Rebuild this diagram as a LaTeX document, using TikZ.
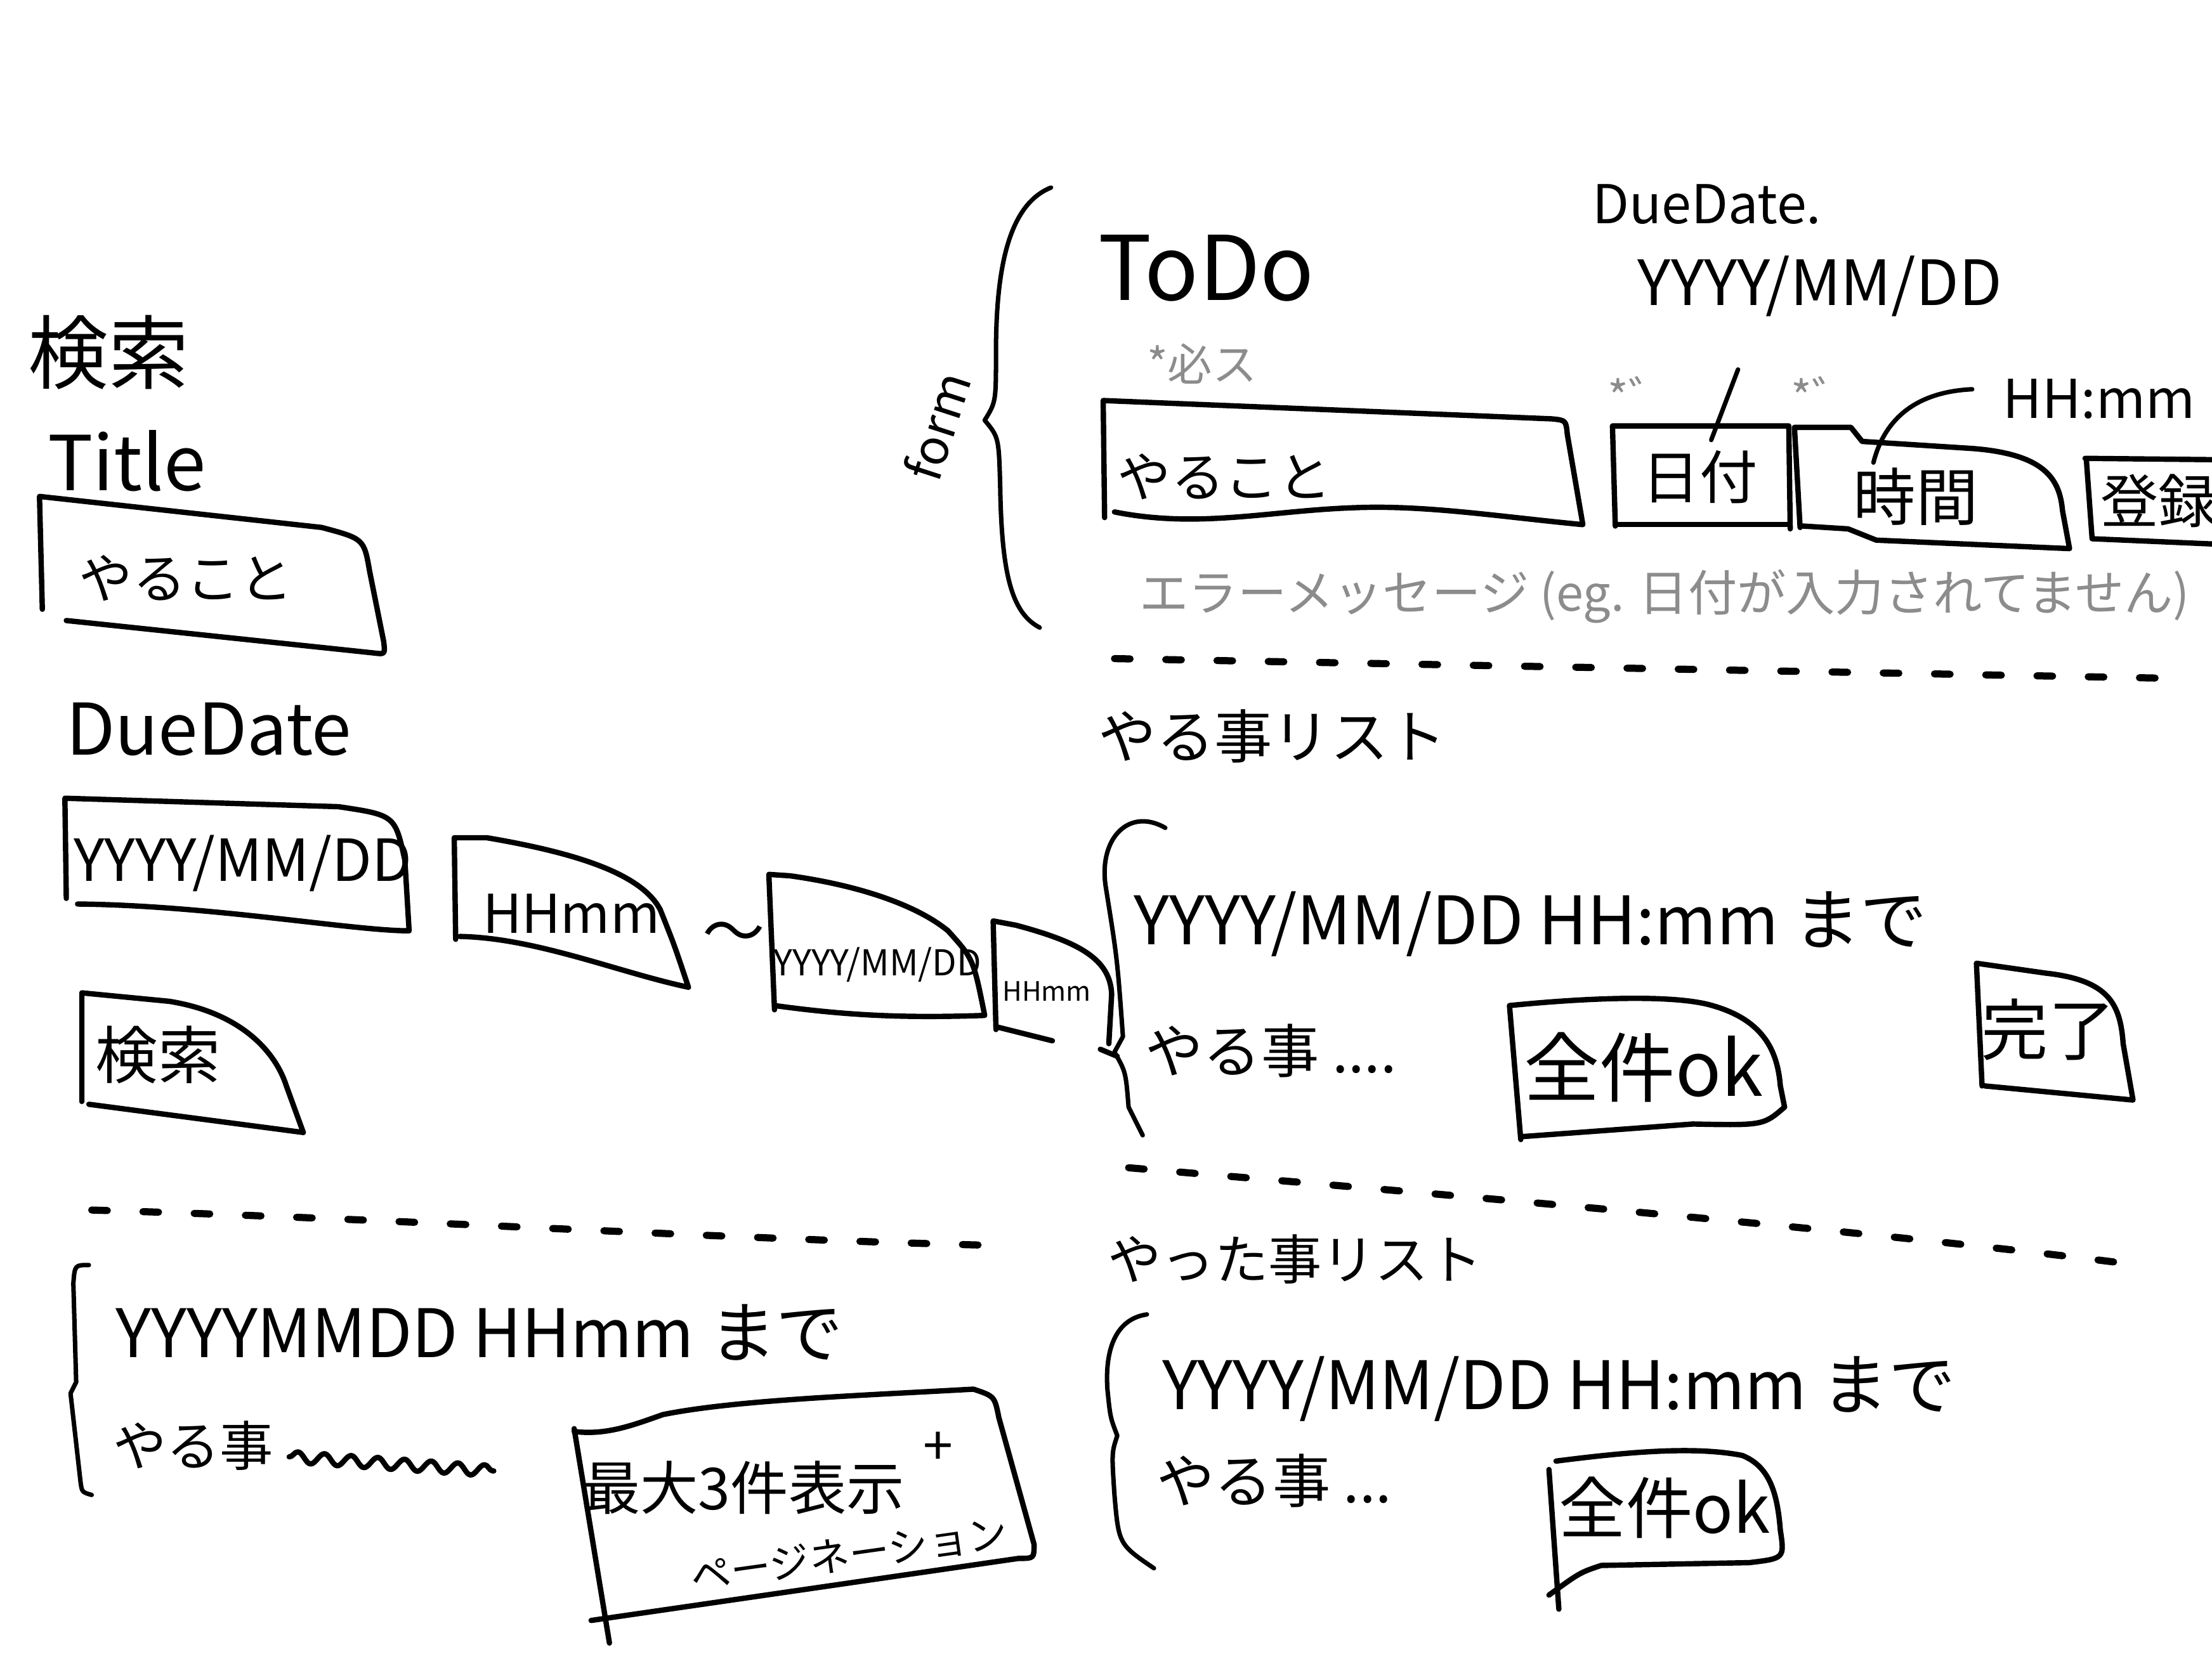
\documentclass[tikz,border=0pt]{standalone}
\usepackage{fontspec}
\setmainfont{Noto Sans CJK JP}
\usetikzlibrary{decorations.pathmorphing}

\begin{document}
\begin{tikzpicture}[
        x=0.02224cm, y=-0.02224cm,
        line width=2.4pt, line cap=round, line join=round,
        every node/.style={inner sep=0pt, color=black},
        fs/.style={font=\fontsize{#1}{#1}\selectfont},
        pale/.style={color=black!45},
        sep line/.style={line width=3.2pt, dash pattern=on 7pt off 16pt},
        brace/.style={line width=2pt},
        squiggle/.style={decorate, decoration={snake, amplitude=2.5pt, segment length=12pt}},
    ]

    \useasboundingbox (0,0) rectangle (1568,1176);
    \fill[white] (0,0) rectangle (1568,1176);
    \clip (0,0) rectangle (1568,1176);

    % search panel
    \node[fs=36] (kensaku) at (77,250) {検索};
    \node[fs=34] (title) at (90,327) {Title};
    \node[fs=24] (yarukotoL) at (132,410) {やること};
    \draw (30,432) -- (28,352) -- (228,374) .. controls (258,382) .. (262,405)
        -- (272,455) .. controls (273,464) .. (265,463) -- (47,440);

    \node[fs=32] (duedateL) at (148,517) {DueDate};
    \node[fs=26] (ymdL) at (172,612) {YYYY/MM/DD};
    \draw (47,637) -- (46,566) -- (240,572) .. controls (280,578) .. (287,610)
        -- (290,660) .. controls (250,660) and (150,642) .. (55,641);

    \node[fs=24] (hhmmL) at (405,648) {HHmm};
    \draw (323,666) -- (322,594) -- (345,594) .. controls (410,605) and (455,620) .. (468,645)
        .. controls (478,670) .. (488,700) .. controls (440,690) and (380,665) .. (326,664);

    \node[fs=28] (tilde) at (520,665) {〜};

    \node[fs=16] (ymdL2) at (622,684) {YYYY/MM/DD};
    \draw (549,716) -- (545,620) -- (560,621) .. controls (610,628) and (650,642) .. (672,660)
        .. controls (690,680) .. (698,720) .. controls (640,722) and (600,720) .. (549,713);

    \node[fs=12] (hhmmL2) at (742,703) {HHmm};
    \draw (706,730) -- (704,653) -- (720,656) .. controls (765,668) and (787,680) .. (788,705)
        -- (786,740);
    \draw (706,728) -- (746,738);
    \draw (780,744) -- (792,749);

    \node[fs=28] (searchbtn) at (112,748) {検索};
    \draw (58,781) -- (58,704) -- (120,710) .. controls (170,718) and (195,745) .. (203,770)
        -- (215,803) -- (63,783);

    \draw[sep line] (65,858) .. controls (300,865) and (500,878) .. (702,883);

    % search result
    \draw[brace] (63,897) .. controls (53,897) .. (52,910) -- (54,980) -- (50,988)
        -- (57,1050) .. controls (58,1058) .. (65,1060);
    \node[fs=30, anchor=west] (dueC) at (80,945) {YYYYMMDD HHmm まで};
    \node[fs=24] (itemC) at (137,1025) {やる事};
    \draw[squiggle] (205,1033) -- (350,1043);

    \node[fs=26] (maxshow) at (527,1055) {最大3件表示};
    \node[fs=24] (plus) at (665,1027) {+};
    \node[fs=18, rotate=8] (pagination) at (602,1102) {ページネーション};
    \draw (407,1013) -- (432,1165);
    \draw (407,1015) .. controls (430,1018) and (450,1010) .. (470,1003)
        .. controls (520,993) and (600,990) .. (690,985) .. controls (705,990) .. (708,1005)
        -- (733,1095) .. controls (733,1105) .. (722,1105) -- (419,1149);

    % form
    \draw[brace] (745,133) .. controls (715,145) and (706,190) .. (706,250)
        .. controls (706,285) .. (698,298) .. controls (708,310) .. (709,345)
        .. controls (710,410) and (718,435) .. (737,445);
    \node[fs=22, rotate=72] (form) at (664,302) {form};

    \node[fs=40] (todo) at (855,190) {ToDo};
    \node[fs=20, pale] (hissu) at (852,258) {*必ス};
    \node[fs=24] (yarukotoR) at (868,338) {やること};
    \draw (783,367) -- (782,284) -- (1100,297) .. controls (1110,298) .. (1111,308)
        -- (1122,372) .. controls (1060,366) and (1010,358) .. (960,360)
        .. controls (900,362) and (850,375) .. (790,363);

    \node[fs=24] (duedateR) at (1210,145) {DueDate.};
    \node[fs=28] (ymdR) at (1290,203) {YYYY/MM/DD};
    \node[fs=20, pale] (mark1) at (1163,280) {*゛};
    \node[fs=20, pale] (mark2) at (1293,280) {*゛};

    \node[fs=26] (hizuke) at (1205,338) {日付};
    \draw (1145,373) -- (1143,302) -- (1268,302) -- (1269,375);
    \draw (1147,372) -- (1267,372);
    \coordinate (slashA) at (1232,262);
    \coordinate (slashB) at (1213,312);
    \draw[line width=2pt] (slashA) -- (slashB);

    \node[fs=28] (jikan) at (1358,352) {時間};
    \draw (1276,374) -- (1272,303) -- (1312,303) -- (1320,313) -- (1398,318)
        .. controls (1450,322) and (1460,340) .. (1462,362) -- (1467,389)
        -- (1330,383) -- (1310,375) -- (1278,373);

    \node[fs=24] (hhmmR) at (1488,283) {HH:mm};
    \coordinate (curveA) at (1398,276);
    \coordinate (curveB) at (1328,328);
    \draw[line width=2pt] (curveA) .. controls (1355,278) and (1335,300) .. (curveB);

    \node[fs=26] (touroku) at (1530,355) {登録};
    \draw (1478,325) -- (1575,326);
    \draw (1479,327) -- (1483,382) -- (1575,386);

    \node[fs=22, pale] (errmsg) at (1180,423) {エラーメッセージ (eg. 日付が入力されてません)};

    \draw[sep line] (790,467) -- (1540,481);

    % todo list
    \node[fs=26] (todolist) at (902,522) {やる事リスト};
    \draw[brace] (826,587) .. controls (800,572) and (778,595) .. (784,630)
        .. controls (792,680) .. (796,735) -- (790,746) .. controls (798,760) .. (800,785)
        -- (810,805);
    \node[fs=30] (dueA) at (1085,655) {YYYY/MM/DD HH:mm まで};
    \node[fs=26, anchor=west] (itemA) at (810,745) {やる事 ....};

    \node[fs=34] (allokA) at (1165,757) {全件ok};
    \draw (1078,808) -- (1070,713) .. controls (1120,708) and (1180,705) .. (1210,712)
        .. controls (1250,722) and (1260,745) .. (1262,770) -- (1265,785)
        .. controls (1250,798) .. (1200,797) -- (1078,806);

    \node[fs=30] (doneA) at (1452,730) {完了};
    \draw (1405,770) -- (1401,683) -- (1450,690) .. controls (1495,695) and (1503,712) .. (1505,740)
        -- (1512,780) -- (1407,770);

    \draw[sep line] (800,828) .. controls (1000,845) and (1300,870) .. (1500,895);

    % done list
    \node[fs=24] (donelist) at (918,893) {やった事リスト};
    \draw[brace] (813,932) .. controls (792,935) and (783,955) .. (785,985)
        .. controls (787,1005) .. (792,1018) .. controls (788,1030) .. (790,1060)
        .. controls (793,1095) .. (818,1112);
    \node[fs=30] (dueB) at (1105,985) {YYYY/MM/DD HH:mm まで};
    \node[fs=26, anchor=west] (itemB) at (818,1050) {やる事 ...};

    \node[fs=30] (allokB) at (1180,1069) {全件ok};
    \draw (1105,1141) -- (1098,1042);
    \draw (1103,1036) .. controls (1150,1030) and (1200,1025) .. (1235,1032)
        .. controls (1255,1040) and (1260,1060) .. (1262,1085) .. controls (1265,1105) .. (1240,1108)
        -- (1135,1110) .. controls (1120,1115) .. (1098,1131);

\end{tikzpicture}
\end{document}
